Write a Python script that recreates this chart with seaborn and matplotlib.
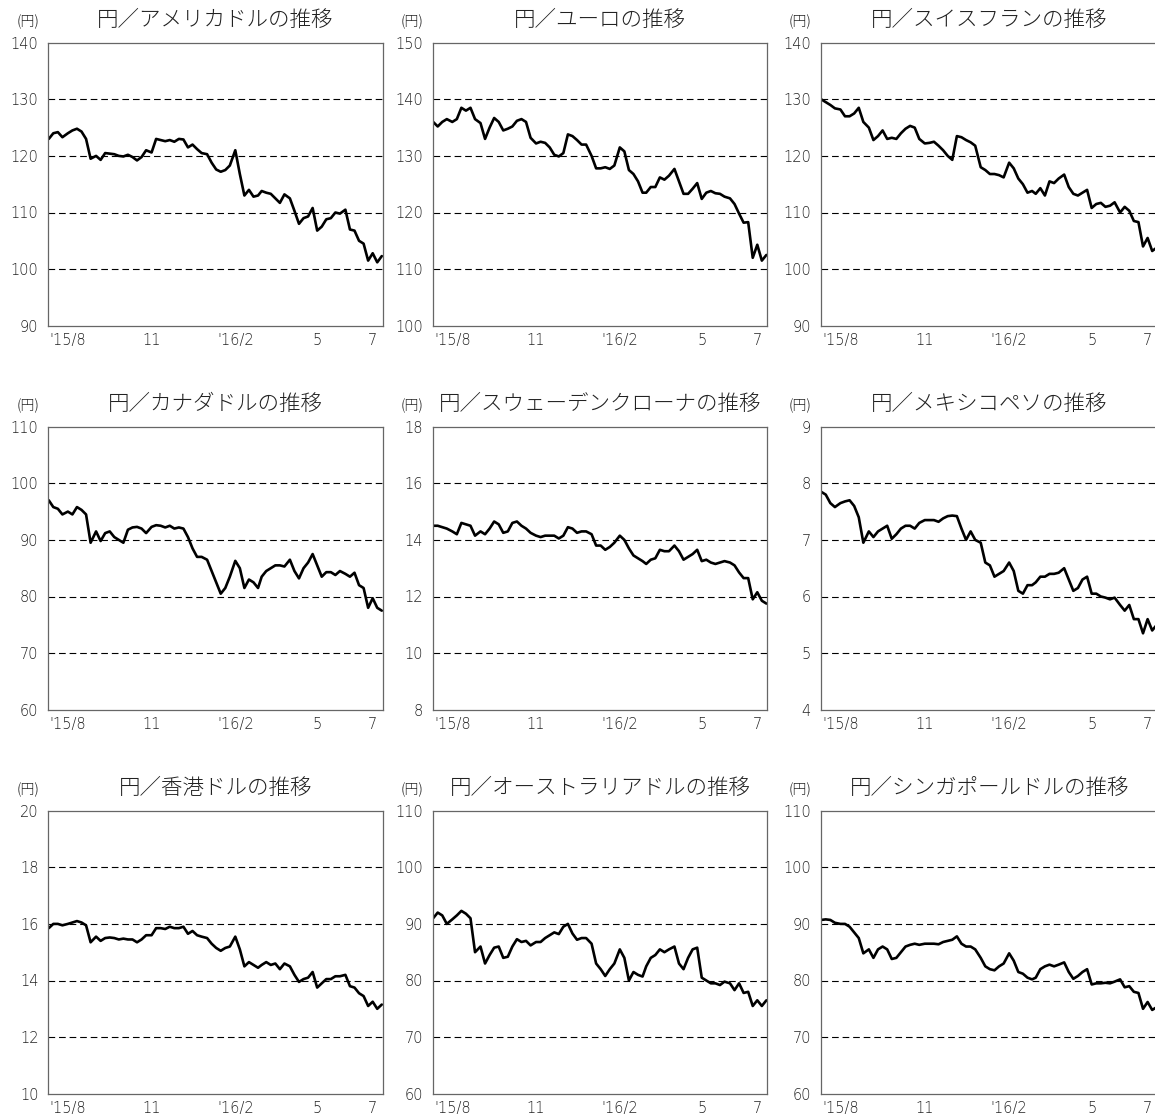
import pandas as pd
import matplotlib
matplotlib.use("Agg")
import matplotlib.pyplot as plt
import seaborn as sns

sns.set_style("white")
plt.rcParams['font.family'] = ['Noto Sans CJK JP', 'DejaVu Sans']

# sample dates: 1, 6, 11, 16, 21, 26 of each month (Jul 2015 - Jul 2016)
months = [(2015, 8), (2015, 9), (2015, 10), (2015, 11), (2015, 12), (2016, 1),
          (2016, 2), (2016, 3), (2016, 4), (2016, 5), (2016, 6)]
dates = ['2015-07-11', '2015-07-16', '2015-07-21', '2015-07-26']
dates += [f'{y}-{m:02d}-{d:02d}' for (y, m) in months for d in (1, 6, 11, 16, 21, 26)]
dates += ['2016-07-01', '2016-07-06', '2016-07-11']
dates = pd.to_datetime(dates)

usd = [123.0, 124.0, 124.2, 123.3, 124.0, 124.5, 124.8, 124.3, 123.0, 119.5,
       120.0, 119.3, 120.5, 120.4, 120.3, 120.0, 119.9, 120.2, 119.8, 119.2, 119.8, 121.0,
       120.6, 123.0, 122.8, 122.6, 122.8, 122.5, 123.0, 122.9, 121.5, 122.0, 121.2, 120.5,
       120.3, 118.8, 117.6, 117.2, 117.5, 118.3, 121.0, 116.8, 113.0, 114.0, 112.8, 113.0,
       113.8, 113.5, 113.3, 112.5, 111.7, 113.2, 112.5, 110.3, 108.0, 109.0, 109.3, 110.8,
       106.8, 107.5, 108.8, 109.0, 110.0, 109.8, 110.5, 107.0, 106.8, 105.0, 104.5, 101.5,
       102.8, 101.2, 102.3]
eur = [136.0, 135.2, 136.0, 136.5, 136.0, 136.5, 138.5, 138.0, 138.5, 136.5,
       135.8, 133.0, 135.0, 136.7, 136.0, 134.5, 134.8, 135.2, 136.2, 136.5, 136.0, 133.2,
       132.2, 132.5, 132.3, 131.5, 130.2, 129.9, 130.5, 133.8, 133.5, 132.8, 132.0, 132.0,
       130.0, 127.8, 127.8, 128.0, 127.7, 128.3, 131.5, 130.8, 127.5, 126.8, 125.5, 123.5,
       123.5, 124.5, 124.5, 126.2, 125.8, 126.5, 127.7, 125.5, 123.3, 123.3, 124.2, 125.2,
       122.4, 123.5, 123.8, 123.4, 123.3, 122.8, 122.5, 121.5, 119.8, 118.2, 118.3, 112.0,
       114.3, 111.5, 112.5]
chf = [130.0, 129.5, 129.0, 128.4, 128.2, 127.0, 127.0, 127.5, 128.5, 126.0,
       125.0, 122.8, 123.5, 124.5, 123.0, 123.2, 123.0, 124.0, 124.8, 125.3, 125.0, 123.0,
       122.2, 122.3, 122.5, 121.8, 121.0, 120.0, 119.3, 123.5, 123.3, 122.8, 122.4, 121.8,
       118.0, 117.5, 116.8, 116.8, 116.6, 116.2, 118.8, 117.8, 116.0, 115.0, 113.5, 113.8,
       113.3, 114.3, 113.0, 115.5, 115.2, 116.0, 116.7, 114.5, 113.3, 113.0, 113.5, 114.0,
       110.8, 111.5, 111.7, 111.0, 111.2, 111.8, 110.0, 111.0, 110.3, 108.5, 108.3, 104.0,
       105.5, 103.2, 103.8]
cad = [97.0, 95.8, 95.5, 94.5, 95.0, 94.5, 95.8, 95.3, 94.5, 89.5,
       91.5, 89.8, 91.2, 91.5, 90.5, 90.0, 89.5, 91.8, 92.2, 92.3, 92.0, 91.2,
       92.3, 92.6, 92.5, 92.2, 92.5, 92.0, 92.2, 92.0, 90.5, 88.5, 87.0, 87.0,
       86.5, 84.5, 82.5, 80.5, 81.5, 83.5, 86.3, 85.0, 81.5, 83.0, 82.5, 81.5,
       83.5, 84.5, 85.0, 85.5, 85.5, 85.3, 86.5, 84.5, 83.2, 85.0, 86.0, 87.5,
       85.5, 83.5, 84.3, 84.3, 83.8, 84.5, 84.0, 83.5, 84.2, 82.0, 81.5, 78.0,
       79.7, 78.0, 77.5]
sek = [14.5, 14.5, 14.45, 14.4, 14.3, 14.2, 14.6, 14.55, 14.5, 14.15,
       14.3, 14.2, 14.4, 14.65, 14.55, 14.25, 14.3, 14.6, 14.65, 14.5, 14.4, 14.25,
       14.15, 14.1, 14.15, 14.15, 14.15, 14.05, 14.15, 14.45, 14.4, 14.25, 14.3, 14.3,
       14.2, 13.8, 13.8, 13.65, 13.75, 13.9, 14.15, 14.0, 13.7, 13.45, 13.35, 13.25,
       13.15, 13.3, 13.35, 13.65, 13.6, 13.6, 13.8, 13.6, 13.3, 13.4, 13.5, 13.65,
       13.25, 13.3, 13.2, 13.15, 13.2, 13.25, 13.2, 13.1, 12.85, 12.65, 12.65, 11.9,
       12.15, 11.85, 11.75]
mxn = [7.85, 7.8, 7.65, 7.58, 7.65, 7.68, 7.7, 7.6, 7.4, 6.95,
       7.15, 7.05, 7.15, 7.2, 7.25, 7.02, 7.1, 7.2, 7.25, 7.25, 7.2, 7.3,
       7.35, 7.35, 7.35, 7.32, 7.38, 7.42, 7.43, 7.42, 7.2, 7.0, 7.15, 7.0,
       6.95, 6.6, 6.55, 6.35, 6.4, 6.45, 6.6, 6.45, 6.1, 6.05, 6.2, 6.2,
       6.25, 6.35, 6.35, 6.4, 6.4, 6.42, 6.5, 6.3, 6.1, 6.15, 6.3, 6.35,
       6.05, 6.05, 6.0, 5.98, 5.95, 5.98, 5.85, 5.75, 5.85, 5.6, 5.6, 5.35,
       5.6, 5.4, 5.5]
hkd = [15.85, 16.0, 16.0, 15.95, 16.0, 16.05, 16.1, 16.05, 15.95, 15.35,
       15.55, 15.4, 15.5, 15.52, 15.5, 15.45, 15.48, 15.45, 15.45, 15.35, 15.45, 15.6,
       15.6, 15.85, 15.85, 15.82, 15.9, 15.85, 15.85, 15.9, 15.65, 15.75, 15.6, 15.55,
       15.5, 15.3, 15.15, 15.05, 15.15, 15.2, 15.55, 15.1, 14.5, 14.65, 14.55, 14.45,
       14.55, 14.65, 14.55, 14.6, 14.4, 14.6, 14.5, 14.2, 13.95, 14.05, 14.1, 14.3,
       13.75, 13.9, 14.05, 14.05, 14.15, 14.15, 14.2, 13.8, 13.75, 13.55, 13.45, 13.1,
       13.25, 13.0, 13.15]
aud = [91.0, 92.0, 91.5, 90.0, 90.8, 91.5, 92.3, 91.8, 91.0, 85.0,
       86.0, 83.0, 84.5, 85.8, 86.0, 84.0, 84.2, 86.0, 87.3, 86.8, 87.0, 86.2,
       86.8, 86.8, 87.5, 88.0, 88.5, 88.2, 89.5, 90.0, 88.3, 87.2, 87.5, 87.5,
       86.5, 83.0, 82.0, 80.8, 82.0, 83.0, 85.5, 84.0, 80.0, 81.5, 81.0, 80.7,
       82.5, 84.0, 84.5, 85.5, 85.0, 85.5, 86.0, 83.0, 82.0, 84.0, 85.5, 85.8,
       80.5, 80.0, 79.5, 79.5, 79.2, 79.8, 79.5, 78.3, 79.5, 77.8, 78.0, 75.5,
       76.5, 75.5, 76.5]
sgd = [90.7, 90.8, 90.7, 90.2, 90.0, 90.0, 89.5, 88.5, 87.5, 84.8,
       85.5, 84.0, 85.5, 86.0, 85.5, 83.8, 84.0, 85.0, 86.0, 86.3, 86.5, 86.3,
       86.5, 86.5, 86.5, 86.4, 86.8, 87.0, 87.2, 87.8, 86.5, 86.0, 86.0, 85.5,
       84.0, 82.5, 82.0, 81.8, 82.5, 83.0, 84.8, 83.5, 81.5, 81.2, 80.5, 80.2,
       80.5, 82.0, 82.5, 82.8, 82.5, 82.8, 83.2, 81.5, 80.3, 80.8, 81.5, 82.0,
       79.3, 79.5, 79.5, 79.6, 79.5, 79.8, 80.2, 78.8, 79.0, 78.0, 77.8, 75.0,
       76.2, 74.8, 75.3]

titles = ['円／アメリカドルの推移', '円／ユーロの推移', '円／スイスフランの推移',
          '円／カナダドルの推移', '円／スウェーデンクローナの推移', '円／メキシコペソの推移',
          '円／香港ドルの推移', '円／オーストラリアドルの推移', '円／シンガポールドルの推移']
series = [usd, eur, chf, cad, sek, mxn, hkd, aud, sgd]
y_ranges = [(90, 140, 10), (100, 150, 10), (90, 140, 10),
            (60, 110, 10), (8, 18, 2), (4, 9, 1),
            (10, 20, 2), (60, 110, 10), (60, 110, 10)]

month_ticks = pd.date_range('2015-08-01', '2016-07-01', freq='MS')
month_names = {8: "'15/8", 11: '11', 2: "'16/2", 5: '5', 7: '7'}
tick_labels = [month_names.get(t.month, '') for t in month_ticks]

W, H = 1155, 1120
fig = plt.figure(figsize=(W / 100, H / 100), dpi=100)
col_left = [48.3, 432.7, 820.7]
col_width = [334.4, 334.6, 337.0]
row_top = [42.7, 426.7, 810.7]
ax_h = 283.0
num_font = ['DejaVu Sans', 'Noto Sans CJK JP']
txt = '#222222'

for i, (title, vals, (lo, hi, step)) in enumerate(zip(titles, series, y_ranges)):
    r, c = divmod(i, 3)
    rect = [col_left[c] / W, (H - row_top[r] - ax_h) / H, col_width[c] / W, ax_h / H]
    ax = fig.add_axes(rect)
    sns.lineplot(x=dates, y=vals, ax=ax, color='black', linewidth=1.9)
    ax.set_xlim(pd.Timestamp('2015-07-10 12:00'), pd.Timestamp('2016-07-12'))
    ax.set_ylim(lo, hi)
    ax.set_yticks(list(range(lo, hi + 1, step)))
    ax.set_xticks(month_ticks)
    ax.set_xticklabels(tick_labels)
    ax.set_xlabel('')
    ax.set_ylabel('')
    ax.grid(False)
    ax.yaxis.grid(True, color='black', linewidth=0.8, linestyle=(0, (6, 3.5)))
    yt = ax.yaxis.get_major_ticks()
    yt[0].gridline.set_visible(False)
    yt[-1].gridline.set_visible(False)
    ax.tick_params(axis='x', direction='in', length=4, width=0.8, color='#555555',
                   pad=5, labelcolor=txt)
    ax.tick_params(axis='y', length=0, pad=7, labelcolor=txt)
    for lab in ax.get_xticklabels() + ax.get_yticklabels():
        lab.set_family(num_font)
        lab.set_fontsize(10.5)
        lab.set_fontweight('light')
    for s in ax.spines.values():
        s.set_color('#666666')
        s.set_linewidth(0.9)
    ax.set_title(title, fontsize=15.5, pad=12, color=txt, fontweight='light')
    ax.annotate('(円)', xy=(0, 1), xycoords='axes fraction', xytext=(-14.5, 10),
                textcoords='offset points', ha='center', va='bottom',
                fontsize=10, color=txt, fontweight='light')

fig.savefig('out.png', dpi=100)
